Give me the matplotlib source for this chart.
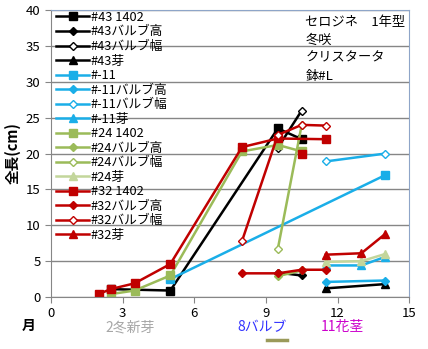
import matplotlib.pyplot as plt
import numpy as np

plt.rcParams['font.family'] = ['Noto Sans CJK JP', 'DejaVu Sans']

nan = np.nan
# series: (label, x, y, color, marker, filled)
s43_x = [2.5, 5, 9.5, 10.5]
s43_y = [1.1, 0.9, 23.5, 22.0]
s43h_x = [9.5, 10.5]
s43h_y = [3.4, 3.0]
s43w_x = [9.5, 10.5]
s43w_y = [20.8, 26.0]
s43m_x = [11.5, 14]
s43m_y = [1.2, 1.8]

s11_x = [5, 14]
s11_y = [2.5, 17.0]
s11h_x = [11.5, 14]
s11h_y = [2.1, 2.3]
s11w_x = [11.5, 14]
s11w_y = [18.9, 20.0]
s11m_x = [11.5, 13, 14]
s11m_y = [4.4, 4.4, 5.6]

s24_x = [2.5, 3.5, 5, 8, 9.5, 10.5]
s24_y = [0.4, 0.9, 3.0, 20.3, 21.2, 20.3]
s24h_x = [9.5, 10.5]
s24h_y = [2.9, 3.7]
s24w_x = [9.5, 10.5]
s24w_y = [6.7, 24.0]
s24m_x = [11.5, 13, 14]
s24m_y = [4.9, 5.0, 6.0]

s32_x = [2, 2.5, 3.5, 5, 8, 9.5, 11.5, nan, 10.5]
s32_y = [0.4, 1.1, 1.9, 4.6, 20.9, 22.1, 22.0, nan, 19.9]
s32h_x = [8, 9.5, 10.5, 11.5]
s32h_y = [3.3, 3.3, 3.8, 3.8]
s32w_x = [8, 9.5, 10.5, 11.5]
s32w_y = [7.8, 22.6, 24.0, 23.9]
s32m_x = [11.5, 13, 14]
s32m_y = [5.9, 6.1, 8.8]

black = '#000000'
cyan = '#1aaee8'
green = '#9bbb59'
pale = '#c3d69b'
red = '#c00000'

series = [
    ('#43 1402', s43_x, s43_y, black, 's', True),
    ('#43バルブ高', s43h_x, s43h_y, black, 'D', True),
    ('#43バルブ幅', s43w_x, s43w_y, black, 'D', False),
    ('#43芽', s43m_x, s43m_y, black, '^', True),
    ('#-11', s11_x, s11_y, cyan, 's', True),
    ('#-11バルブ高', s11h_x, s11h_y, cyan, 'D', True),
    ('#-11バルブ幅', s11w_x, s11w_y, cyan, 'D', False),
    ('#-11芽', s11m_x, s11m_y, cyan, '^', True),
    ('#24 1402', s24_x, s24_y, green, 's', True),
    ('#24バルブ高', s24h_x, s24h_y, green, 'D', True),
    ('#24バルブ幅', s24w_x, s24w_y, green, 'D', False),
    ('#24芽', s24m_x, s24m_y, pale, '^', True),
    ('#32 1402', s32_x, s32_y, red, 's', True),
    ('#32バルブ高', s32h_x, s32h_y, red, 'D', True),
    ('#32バルブ幅', s32w_x, s32w_y, red, 'D', False),
    ('#32芽', s32m_x, s32m_y, red, '^', True),
]

fig = plt.figure(figsize=(4.28, 3.49), dpi=100)
ax = fig.add_axes([0.119, 0.149, 0.837, 0.822])

for lab, x, y, c, m, filled in series:
    ms = 4.5 if m == 'D' else 6
    ax.plot(x, y, color=c, lw=1.8, marker=m, ms=ms,
            mfc=c if filled else 'white', mec=c, mew=1.0, label=lab)

ax.set_xlim(0, 15)
ax.set_ylim(0, 40)
ax.set_xticks([0, 3, 6, 9, 12, 15])
ax.set_yticks(range(0, 41, 5))
ax.yaxis.grid(True, color='#868686', lw=1)
ax.set_axisbelow(True)
for sp in ['top', 'right']:
    ax.spines[sp].set_color('#8ea5c8')
for sp in ['left', 'bottom']:
    ax.spines[sp].set_color('#868686')
ax.tick_params(labelsize=9.5, length=4, color='#868686')
ax.set_ylabel('全長(cm)', fontsize=10.5, fontweight='bold', labelpad=4)

ax.legend(loc='upper left', frameon=False, fontsize=9.2, handlelength=2.6,
          labelspacing=0.12, handletextpad=0.1, borderaxespad=0.0,
          bbox_to_anchor=(0.0, 1.015))

ax.text(0.71, 0.98, 'セロジネ　1年型\n冬咲\nクリスタータ\n鉢#L', transform=ax.transAxes,
        fontsize=9.5, va='top', ha='left', linespacing=1.5)

fig.text(22 / 428, 1 - 326 / 349, '月', fontsize=10, fontweight='bold', va='center')
fig.text(130 / 428, 1 - 327 / 349, '2冬新芽', fontsize=10, color='#a6a6a6', va='center', ha='center')
fig.text(262 / 428, 1 - 327 / 349, '8バルブ', fontsize=10, color='#3333ff', va='center', ha='center')
fig.text(342 / 428, 1 - 327 / 349, '11花茎', fontsize=10, color='#cc00cc', va='center', ha='center')
fig.add_artist(plt.Line2D([267 / 428, 287 / 428], [1 - 340 / 349] * 2, color='#9a9a5a', lw=2.5))

fig.savefig('out.png', dpi=100)
